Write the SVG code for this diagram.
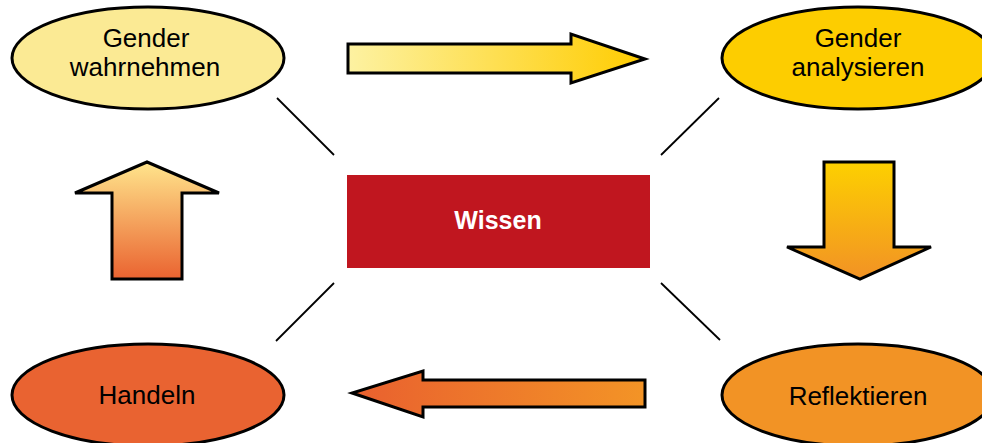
<svg xmlns="http://www.w3.org/2000/svg" width="982" height="443" viewBox="0 0 982 443">
<style>
.ell{stroke:#000;stroke-width:3}
.arr{stroke:#000;stroke-width:3;stroke-linejoin:miter}
.lbl{font-family:"Liberation Sans",Arial,sans-serif;font-size:26px;fill:#000;text-anchor:middle}
.con{stroke:#000;stroke-width:1.8;fill:none}
</style>
<defs>
<linearGradient id="gR" x1="0" y1="0" x2="1" y2="0"><stop offset="0" stop-color="#FDF2A2"/><stop offset="1" stop-color="#FFCC00"/></linearGradient>
<linearGradient id="gD" x1="0" y1="0" x2="0" y2="1"><stop offset="0" stop-color="#FDD000"/><stop offset="1" stop-color="#F29225"/></linearGradient>
<linearGradient id="gL" x1="1" y1="0" x2="0" y2="0"><stop offset="0" stop-color="#F39426"/><stop offset="1" stop-color="#E9602F"/></linearGradient>
<linearGradient id="gU" x1="0" y1="1" x2="0" y2="0"><stop offset="0" stop-color="#EA6330"/><stop offset="1" stop-color="#FFE58C"/></linearGradient>
</defs>
<rect width="982" height="443" fill="#fff"/>
<g id="connectors">
<line class="con" x1="277" y1="98" x2="334" y2="155"/>
<line class="con" x1="719" y1="98" x2="661" y2="155"/>
<line class="con" x1="276" y1="341" x2="334" y2="283"/>
<line class="con" x1="661" y1="283" x2="720" y2="340"/>
</g>
<g id="arrow-right"><polygon class="arr" fill="url(#gR)" points="348,44 571,44 571,34 645,59 571,83 571,73 348,73"/></g>
<g id="arrow-down"><polygon class="arr" fill="url(#gD)" points="824,162 894,162 894,247 931,247 860,279 787,247 824,247"/></g>
<g id="arrow-left"><polygon class="arr" fill="url(#gL)" points="645,380 423,380 423,371 352,393 423,417 423,407 645,407"/></g>
<g id="arrow-up"><polygon class="arr" fill="url(#gU)" points="112,279 182,279 182,193 219,193 147,162 75,193 112,193"/></g>
<g id="node-wahrnehmen">
<ellipse class="ell" cx="148" cy="58" rx="136" ry="51" fill="#FBEA94"/>
<text class="lbl" x="146" y="47">Gender</text>
<text class="lbl" x="145" y="76">wahrnehmen</text>
</g>
<g id="node-analysieren">
<ellipse class="ell" cx="858" cy="58" rx="136" ry="51" fill="#FDCD00"/>
<text class="lbl" x="858" y="47">Gender</text>
<text class="lbl" x="858" y="76">analysieren</text>
</g>
<g id="node-wissen">
<rect x="347" y="175" width="303" height="93" fill="#C0161F"/>
<text x="498" y="229" font-family="'Liberation Sans',Arial,sans-serif" font-size="25" font-weight="bold" fill="#fff" text-anchor="middle">Wissen</text>
</g>
<g id="node-handeln">
<ellipse class="ell" cx="148" cy="395" rx="136" ry="51" fill="#E96331"/>
<text class="lbl" x="147" y="404">Handeln</text>
</g>
<g id="node-reflektieren">
<ellipse class="ell" cx="858" cy="395" rx="136" ry="51" fill="#F29325"/>
<text class="lbl" x="858" y="405">Reflektieren</text>
</g>
</svg>
